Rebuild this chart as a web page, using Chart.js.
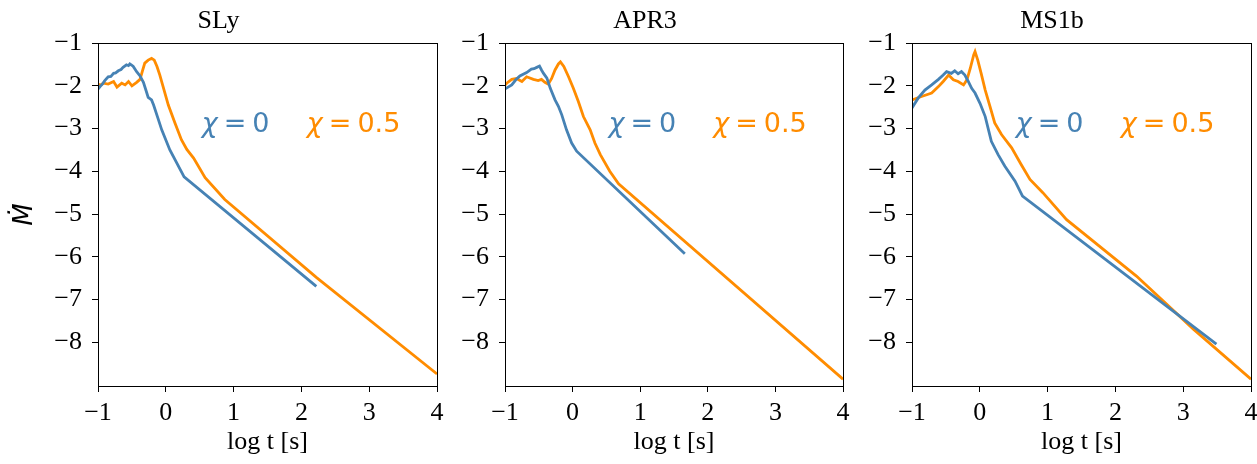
<!DOCTYPE html>
<html>
<head>
<meta charset="utf-8">
<script src="https://cdn.jsdelivr.net/npm/chart.js@4.4.1/dist/chart.umd.min.js"></script>
<style>
  html, body { margin: 0; padding: 0; background: #fff; }
  body { width: 1257px; height: 464px; position: relative; overflow: hidden; }
  canvas { position: absolute; top: 0; }
</style>
</head>
<body>
<canvas id="c1" width="447" height="464" style="left:0px"></canvas>
<canvas id="c2" width="406" height="464" style="left:447px"></canvas>
<canvas id="c3" width="404" height="464" style="left:853px"></canvas>
<script>
// panel titles and ticks
const panelTitles = ['SLy', 'APR3', 'MS1b'];
const xTicks = [-1, 0, 1, 2, 3, 4];
const yTicks = [-1, -2, -3, -4, -5, -6, -7, -8];
const seriesLabels = ['0', '0.5'];

// SLy, chi = 0 (log t, Mdot)
const slyBlueT = [-1.0, -0.97, -0.93, -0.90, -0.85, -0.81, -0.77, -0.74, -0.70, -0.66, -0.63, -0.58, -0.55, -0.53, -0.50, -0.48, -0.43, -0.38, -0.33, -0.28, -0.26, -0.21, -0.18, -0.12, -0.06, 0.06, 0.27, 2.22];
const slyBlueM = [-2.08, -2.02, -1.95, -1.88, -1.79, -1.78, -1.71, -1.70, -1.65, -1.62, -1.57, -1.51, -1.53, -1.49, -1.52, -1.55, -1.67, -1.77, -1.92, -2.17, -2.27, -2.33, -2.45, -2.74, -3.03, -3.50, -4.13, -6.69];
// SLy, chi = 0.5
const slyOrangeT = [-1.0, -0.96, -0.92, -0.85, -0.77, -0.72, -0.65, -0.60, -0.55, -0.50, -0.43, -0.38, -0.34, -0.31, -0.26, -0.21, -0.17, -0.13, -0.088, -0.04, 0.037, 0.135, 0.23, 0.31, 0.41, 0.58, 0.87, 2.22, 4.0];
const slyOrangeM = [-1.97, -1.98, -1.94, -1.96, -1.90, -2.03, -1.94, -1.98, -1.90, -2.00, -1.92, -1.85, -1.63, -1.47, -1.40, -1.36, -1.40, -1.55, -1.75, -2.02, -2.45, -2.87, -3.26, -3.49, -3.69, -4.15, -4.66, -6.48, -8.74];

// APR3, chi = 0
const aprBlueT = [-1.0, -0.985, -0.90, -0.84, -0.78, -0.68, -0.61, -0.57, -0.53, -0.49, -0.46, -0.43, -0.38, -0.33, -0.26, -0.21, -0.16, -0.09, -0.014, 0.06, 1.66];
const aprBlueM = [-2.04, -2.06, -1.98, -1.86, -1.77, -1.69, -1.61, -1.60, -1.57, -1.54, -1.63, -1.71, -1.82, -2.06, -2.33, -2.48, -2.68, -3.03, -3.34, -3.53, -5.93];
// APR3, chi = 0.5
const aprOrangeT = [-1.0, -0.975, -0.90, -0.83, -0.75, -0.68, -0.58, -0.51, -0.46, -0.41, -0.36, -0.31, -0.26, -0.21, -0.18, -0.13, -0.06, 0.011, 0.085, 0.16, 0.26, 0.33, 0.41, 0.55, 0.68, 4.0];
const aprOrangeM = [-1.98, -1.94, -1.85, -1.83, -1.90, -1.79, -1.85, -1.88, -1.85, -1.92, -1.96, -1.83, -1.63, -1.49, -1.44, -1.55, -1.79, -2.06, -2.37, -2.72, -3.03, -3.34, -3.61, -4.00, -4.29, -8.86];

// MS1b, chi = 0
const msBlueT = [-1.0, -0.91, -0.81, -0.71, -0.61, -0.54, -0.49, -0.42, -0.37, -0.32, -0.27, -0.22, -0.17, -0.12, -0.07, 0.003, 0.08, 0.17, 0.27, 0.37, 0.52, 0.63, 3.49];
const msBlueM = [-2.52, -2.29, -2.10, -1.98, -1.85, -1.75, -1.67, -1.71, -1.65, -1.72, -1.67, -1.75, -1.90, -2.06, -2.17, -2.41, -2.72, -3.30, -3.61, -3.88, -4.23, -4.58, -8.04];
// MS1b, chi = 0.5
const msOrangeT = [-1.0, -0.86, -0.71, -0.61, -0.54, -0.46, -0.39, -0.32, -0.24, -0.19, -0.14, -0.09, -0.07, -0.03, 0.02, 0.08, 0.15, 0.22, 0.32, 0.47, 0.61, 0.74, 0.93, 1.28, 2.31, 3.15, 4.0];
const msOrangeM = [-2.33, -2.25, -2.17, -2.02, -1.90, -1.75, -1.86, -1.90, -1.98, -1.86, -1.59, -1.28, -1.20, -1.40, -1.71, -2.10, -2.48, -2.87, -3.14, -3.45, -3.84, -4.19, -4.50, -5.13, -6.45, -7.69, -8.86];

const BLUE = '#4682b4';
const ORANGE = '#ff8c00';
const SERIF = '"Liberation Serif", "Times New Roman", serif';
const SANS = '"DejaVu Sans", sans-serif';

function pts(t, m) {
    return t.map((v, i) => ({x: v, y: m[i]}));
}

function minus(v) {
    return String(v).replace('-', '\u2212');
}

// box around the plot area
const framePlugin = {
    id: 'frame',
    afterDraw(chart) {
        const a = chart.chartArea;
        const ctx = chart.ctx;
        ctx.save();
        ctx.strokeStyle = '#000';
        ctx.lineWidth = 1;
        ctx.strokeRect(Math.round(a.left) + 0.5, Math.round(a.top) + 0.5,
            Math.round(a.right - a.left), Math.round(a.bottom - a.top));
        ctx.restore();
    }
};

// chi labels inside each panel
const chiPlugin = {
    id: 'chiLabels',
    afterDatasetsDraw(chart) {
        const ctx = chart.ctx;
        const xs = chart.scales.x, ys = chart.scales.y;
        const notes = [
            {x: 0.53, text: seriesLabels[0], color: BLUE},
            {x: 2.08, text: seriesLabels[1], color: ORANGE}
        ];
        ctx.save();
        ctx.textBaseline = 'alphabetic';
        ctx.textAlign = 'left';
        notes.forEach(n => {
            let px = xs.getPixelForValue(n.x);
            const py = ys.getPixelForValue(-3.07);
            ctx.fillStyle = n.color;
            ctx.font = 'italic 27px ' + SANS;
            ctx.fillText('\u03c7', px, py);
            px += ctx.measureText('\u03c7').width + 6;
            ctx.font = '27px ' + SANS;
            ctx.fillText('=', px, py);
            px += ctx.measureText('=').width + 6;
            ctx.fillText(n.text, px, py);
        });
        ctx.restore();
    }
};

function makePanel(id, title, blue, orange, yWidth, padRight, showYTitle) {
    const ctx = document.getElementById(id).getContext('2d');
    return new Chart(ctx, {
        type: 'scatter',
        data: {
            datasets: [
                {label: '\u03c7 = 0', data: blue, borderColor: BLUE, backgroundColor: BLUE},
                {label: '\u03c7 = 0.5', data: orange, borderColor: ORANGE, backgroundColor: ORANGE}
            ]
        },
        options: {
            responsive: false,
            devicePixelRatio: 1,
            animation: false,
            showLine: true,
            elements: {
                point: {radius: 0, hoverRadius: 0},
                line: {borderWidth: 2.8, tension: 0}
            },
            layout: {padding: {left: 0, right: padRight, top: 0, bottom: 0}},
            plugins: {
                legend: {display: false},
                tooltip: {enabled: false},
                title: {
                    display: true,
                    text: title,
                    color: '#000',
                    font: {family: SERIF, size: 26, weight: 'normal', lineHeight: 1},
                    padding: {top: 8, bottom: 9}
                }
            },
            scales: {
                x: {
                    type: 'linear',
                    min: -1,
                    max: 4,
                    afterBuildTicks: s => { s.ticks = xTicks.map(v => ({value: v})); },
                    afterFit: s => { s.height = 78; s.paddingLeft = 0; s.paddingRight = 0; },
                    grid: {display: true, drawOnChartArea: false, drawTicks: true, tickLength: 6, color: '#000', lineWidth: 1},
                    border: {display: false},
                    ticks: {
                        color: '#000',
                        font: {family: SERIF, size: 26, lineHeight: 1},
                        padding: 8,
                        maxRotation: 0,
                        callback: v => minus(v)
                    },
                    title: {
                        display: true,
                        text: 'log t [s]',
                        color: '#000',
                        font: {family: SERIF, size: 26, lineHeight: 1},
                        padding: {top: 0, bottom: 9}
                    }
                },
                y: {
                    type: 'linear',
                    min: -9.02,
                    max: -1,
                    afterBuildTicks: s => { s.ticks = yTicks.map(v => ({value: v})); },
                    afterFit: s => { s.width = yWidth; s.paddingTop = 0; s.paddingBottom = 0; },
                    grid: {display: true, drawOnChartArea: false, drawTicks: true, tickLength: 6, color: '#000', lineWidth: 1},
                    border: {display: false},
                    ticks: {
                        color: '#000',
                        font: {family: SERIF, size: 26, lineHeight: 1},
                        padding: 10,
                        callback: v => minus(v)
                    },
                    title: {
                        display: showYTitle,
                        text: '\u1e40',
                        color: '#000',
                        font: {family: SANS, size: 26, style: 'italic', lineHeight: 1},
                        padding: {top: 12, bottom: 0}
                    }
                }
            }
        },
        plugins: [framePlugin, chiPlugin]
    });
}

makePanel('c1', panelTitles[0], pts(slyBlueT, slyBlueM), pts(slyOrangeT, slyOrangeM), 98, 10, true);
makePanel('c2', panelTitles[1], pts(aprBlueT, aprBlueM), pts(aprOrangeT, aprOrangeM), 58, 10, false);
makePanel('c3', panelTitles[2], pts(msBlueT, msBlueM), pts(msOrangeT, msOrangeM), 59, 6, false);
</script>
</body>
</html>
